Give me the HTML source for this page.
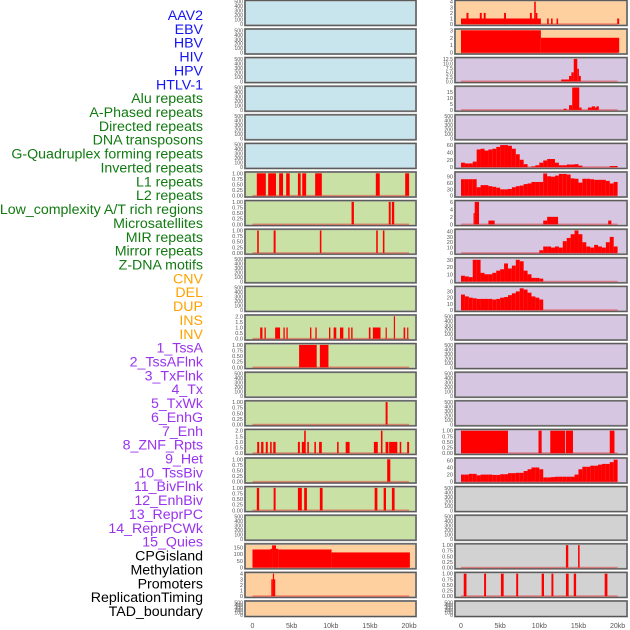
<!DOCTYPE html>
<html><head><meta charset="utf-8"><style>
html,body{margin:0;padding:0;background:#fff;}
svg{display:block;font-family:"Liberation Sans",sans-serif;}
</style></head><body>
<svg id="chart" width="630" height="630" viewBox="0 0 630 630" xmlns="http://www.w3.org/2000/svg">
<g id="labels"></g>
<g id="panels"></g>
<g id="xaxes"></g>
</svg>
<script>
// ---- label data ----
const trackLabels = ["AAV2","EBV","HBV","HIV","HPV","HTLV-1","Alu repeats","A-Phased repeats","Directed repeats","DNA transposons","G-Quadruplex forming repeats","Inverted repeats","L1 repeats","L2 repeats","Low_complexity A/T rich regions","Microsatellites","MIR repeats","Mirror repeats","Z-DNA motifs","CNV","DEL","DUP","INS","INV","1_TssA","2_TssAFlnk","3_TxFlnk","4_Tx","5_TxWk","6_EnhG","7_Enh","8_ZNF_Rpts","9_Het","10_TssBiv","11_BivFlnk","12_EnhBiv","13_ReprPC","14_ReprPCWk","15_Quies","CPGisland","Methylation","Promoters","ReplicationTiming","TAD_boundary"];
const labelGroups = [0,0,0,0,0,0,1,1,1,1,1,1,1,1,1,1,1,1,1,2,2,2,2,2,3,3,3,3,3,3,3,3,3,3,3,3,3,3,3,4,4,4,4,4];

// ---- x axis ----
const xTickValues = [0,5,10,15,20];
const xTickLabels = ["0","5kb","10kb","15kb","20kb"];

// ---- tick sets ----
const ticksEmpty = [0,100,200,300,400,500];
const ticksUnit = [0,0.25,0.5,0.75,1];
const ticksTwo = [0,0.5,1,1.5,2];
const ticksAAV2 = [0,1,2,3,4];
const ticksEBV = [0,1,2,3];
const ticksHIV = [0,2.5,5,7.5,10,12.5];
const ticksHPV = [0,5,10,15];
const ticksGQ = [0,20,40,60];
const ticksL1 = [0,30,60,90];
const ticksLowC = [0,2,4,6];
const ticksMIR = [0,10,20,30,40];
const ticks30 = [0,10,20,30];
const ticksCPG = [0,50,100,150];

// ---- series: segments [startKb, endKb, value] ----
const aav2Right = [[0,10.2,1],[0.7,0.95,2],[2.4,2.65,2],[2.9,3.15,2],[5.5,5.75,2],[8.8,9.05,2],[9.35,9.55,4],[9.55,9.75,2],[11.0,11.2,1],[11.5,11.7,1],[12.2,12.4,1],[19.95,20.2,1]];
const ebvRight = [[0,10.2,3],[10.2,20.2,2]];
const hivRight = [[12.8,13.8,1],[13.8,14.1,3],[14.1,14.4,5],[14.4,14.85,12.5],[14.85,15.06,7],[15.06,15.3,3]];
const hpvRight = [[13.1,13.5,1],[13.8,14.2,4],[14.2,15.1,19],[15.1,15.4,2],[16.2,16.7,2],[16.7,17.1,3],[17.1,17.3,2],[17.3,17.6,3]];
const lowcRight = [[1.6,1.75,3],[1.75,2.3,6],[3.5,4.3,1],[10.5,11.0,1],[11.0,12.4,2],[18.8,19.2,1]];
const l1Left = [[0.55,1.7,1],[2.0,3.0,1],[3.4,3.9,1],[4.3,4.75,1],[5.8,6.15,1],[6.35,6.85,1],[8.0,8.85,1],[15.75,16.25,1],[19.5,20.0,1]];
const l2Left = [[12.65,12.95,1],[17.4,17.65,1],[17.8,18.1,1]];
const mirLeft = [[0.6,0.8,1],[2.7,2.95,1],[8.6,8.8,1],[15.8,16.0,1],[16.65,16.85,1]];
const insLeft = [[0.98,1.27,1],[1.53,1.7,1],[2.89,3.52,1],[3.95,4.12,1],[4.33,4.5,1],[7.35,7.52,1],[8.03,8.2,1],[9.77,9.94,1],[10.36,10.7,1],[11.17,11.6,1],[12.23,12.4,1],[12.6,12.78,1],[14.86,15.07,1],[15.37,16.35,1],[17.0,17.15,1],[18.05,18.2,2],[19.3,19.5,1],[19.75,19.9,1]];
const tssaLeft = [[5.95,8.2,1],[8.6,9.7,1]];
const txwkLeft = [[17.0,17.25,1]];
const enhLeft = [[0.6,0.85,1],[1.1,1.4,1],[1.7,1.95,1],[2.25,2.45,1],[2.65,2.95,1],[5.8,6.05,1],[6.3,6.75,1],[6.6,6.8,2],[7.0,7.2,1],[7.9,8.1,1],[8.5,8.85,1],[10.8,11.0,1],[11.9,12.4,1],[15.5,16.0,1],[16.4,16.6,2],[17.0,17.35,1],[17.45,18.5,1],[18.8,19.0,1],[19.75,20.0,1]];
const znfRight = [[0,6.0,1],[9.9,10.3,1],[11.4,13.3,1],[13.4,14.3,1],[19.0,19.6,1]];
const hetLeft = [[17.2,17.6,1]];
const tssbivLeft = [[0.55,0.85,1],[2.7,2.95,1],[5.8,6.3,1],[6.6,6.95,1],[8.6,8.95,1],[15.6,15.95,1],[16.75,17.05,1],[17.8,18.15,1]];
const cpgLeft = [[0,2.3,135],[2.3,2.5,140],[2.5,3.0,166],[3.0,3.3,140],[3.3,10.1,135],[10.1,20.1,113]];
const methLeft = [[2.4,2.6,3],[2.6,2.75,4],[2.75,2.9,3]];
const promRight = [[13.4,13.7,1],[14.95,15.15,1]];
const repRight = [[0.35,0.7,1],[2.95,3.2,1],[5.1,5.45,1],[7.05,7.3,1],[10.3,10.6,1],[11.55,11.8,1],[13.4,13.75,1],[14.4,14.7,1],[18.35,18.7,1]];

// ---- series: 0.5kb bins ----
const gquadBins = [12,10,10,15,48,50,45,48,50,55,60,60,58,50,35,20,8,0,2,5,12,18,22,22,12,5,5,7,7,8,4,0,0,0,0,0,0,0,3,3];
const l1RightBins = [78,78,78,78,40,50,50,45,42,38,30,30,32,40,45,48,55,58,65,65,65,105,92,90,95,103,103,100,82,80,62,80,80,78,75,75,75,70,58,65];
const mirRightBins = [0,0,0,0,0,0,0,0,0,0,0,0,0,0,0,0,0,0,0,0,5,12,12,10,12,10,22,28,35,42,35,20,12,10,15,12,10,20,30,12];
const mirrorBins = [8,7,6,30,30,12,10,10,12,15,17,25,18,22,30,28,15,10,5,5,4,0,0,0,0,0,0,0,0,0,0,0,0,0,0,0,0,0,0,0];
const zdnaBins = [25,22,20,19,18,18,18,18,17,18,20,21,24,27,30,35,33,28,22,20,17,0,0,0,0,0,0,0,0,0,0,0,0,0,0,0,0,0,0,0];
const bivRightBins = [20,20,22,22,18,20,20,20,19,19,21,21,24,24,25,25,30,35,40,40,35,12,12,13,14,14,14,14,14,20,35,42,42,45,45,48,50,50,55,62];

const BLUE="#c8e4ec", GREEN="#c9e1a5", ORANGE="#ffd09f", PURPLE="#d6c6e1", GRAY="#d2d2d2";
const panelDefs = [];
for (let r=0;r<22;r++){
  panelDefs.push({row:r,side:0,bg: r<6?BLUE:(r<19?GREEN:ORANGE),seg:null,bins:null,ticks:ticksEmpty,max:500,dec:0});
  panelDefs.push({row:r,side:1,bg: r<2?ORANGE:(r<17?PURPLE:GRAY),seg:null,bins:null,ticks:ticksEmpty,max:500,dec:0});
}
function setP(row,side,o){Object.assign(panelDefs[row*2+side],o);}
setP(0,1,{seg:aav2Right,ticks:ticksAAV2,max:4});
setP(1,1,{seg:ebvRight,ticks:ticksEBV,max:3});
setP(2,1,{seg:hivRight,ticks:ticksHIV,max:12.5,dec:1});
setP(3,1,{seg:hpvRight,ticks:ticksHPV,max:19});
setP(5,1,{bins:gquadBins,ticks:ticksGQ,max:61});
setP(6,0,{seg:l1Left,ticks:ticksUnit,max:1,dec:2});
setP(6,1,{bins:l1RightBins,ticks:ticksL1,max:106});
setP(7,0,{seg:l2Left,ticks:ticksUnit,max:1,dec:2});
setP(7,1,{seg:lowcRight,ticks:ticksLowC,max:6});
setP(8,0,{seg:mirLeft,ticks:ticksUnit,max:1,dec:2});
setP(8,1,{bins:mirRightBins,ticks:ticksMIR,max:42});
setP(9,1,{bins:mirrorBins,ticks:ticks30,max:31});
setP(10,1,{bins:zdnaBins,ticks:ticks30,max:36});
setP(11,0,{seg:insLeft,ticks:ticksTwo,max:2,dec:1});
setP(12,0,{seg:tssaLeft,ticks:ticksUnit,max:1,dec:2});
setP(14,0,{seg:txwkLeft,ticks:ticksUnit,max:1,dec:2});
setP(15,0,{seg:enhLeft,ticks:ticksTwo,max:2,dec:1});
setP(15,1,{seg:znfRight,ticks:ticksUnit,max:1,dec:2});
setP(16,0,{seg:hetLeft,ticks:ticksUnit,max:1,dec:2});
setP(16,1,{bins:bivRightBins,ticks:ticksGQ,max:63});
setP(17,0,{seg:tssbivLeft,ticks:ticksUnit,max:1,dec:2});
setP(19,0,{seg:cpgLeft,ticks:ticksCPG,max:168});
setP(19,1,{seg:promRight,ticks:ticksUnit,max:1,dec:2});
setP(20,0,{seg:methLeft,ticks:ticksAAV2,max:4});
setP(20,1,{seg:repRight,ticks:ticksUnit,max:1,dec:2});

const NS="http://www.w3.org/2000/svg";
function mk(tag,attrs,parent){const e=document.createElementNS(NS,tag);for(const k in attrs)e.setAttribute(k,attrs[k]);parent.appendChild(e);return e;}
const panelX=[[245,416],[455,627]];
const zeroX=[252.5,461];
const PXKB=7.83;
function xScale(side,kb){return zeroX[side]+kb*PXKB;}
function rowTop(r){return 0.4+28.6*r;}
function rowH(r){return r===21?15.5:25;}

const labelsG=document.getElementById('labels');
const groupColors=["#1515f5","#117a11","#ffa200","#9933ee","#000000"];
trackLabels.forEach((t,i)=>{
  const el=mk('text',{x:203,y:(15+13.86*i+5).toFixed(1),'text-anchor':'end','font-size':'14.2',fill:groupColors[labelGroups[i]]},labelsG);
  
  
  el.textContent=t;
});

const panelsG=document.getElementById('panels');
panelDefs.forEach(p=>{
  const g=mk('g',{},panelsG);
  
  
  const x0=panelX[p.side][0], x1=panelX[p.side][1];
  const top=rowTop(p.row), h=rowH(p.row), bot=top+h;
  mk('rect',{x:x0,y:top,width:x1-x0,height:h,fill:p.bg,stroke:'#9a9a9a','stroke-width':2},g);
  mk('rect',{x:x0,y:top,width:x1-x0,height:h,fill:'none',stroke:'#555','stroke-width':1},g);
  const y0=bot-1.3, yH=h-2.6;
  const yScale=v=>y0-(v/p.max)*yH;
  p.ticks.forEach(tv=>{
    const t=mk('text',{x:x0-2,y:(yScale(tv)+2).toFixed(1),'text-anchor':'end','font-size':p.ticks.length>5?5.2:5.6,fill:'#555'},g);
    
    
    t.textContent=p.dec?tv.toFixed(p.dec):String(tv);
  });
  let segs=p.seg;
  if(p.bins){segs=p.bins.map((v,i)=>[i*0.5,i*0.5+0.5,v]);}
  if(segs){
    mk('line',{x1:xScale(p.side,0),x2:xScale(p.side,20),y1:y0,y2:y0,stroke:'rgba(230,40,40,0.45)','stroke-width':1.6},g);
    segs.forEach(s=>{
      if(s[2]<=0)return;
      const b=mk('rect',{x:xScale(p.side,s[0]).toFixed(2),y:yScale(s[2]).toFixed(2),width:Math.max(1.2,(s[1]-s[0])*PXKB).toFixed(2),height:(y0-yScale(s[2])).toFixed(2),fill:'#ff0000'},g);
      
      
    });
  }
});

const xG=document.getElementById('xaxes');
[0,1].forEach(side=>{
  xTickValues.forEach((v,i)=>{
    const t=mk('text',{x:xScale(side,v).toFixed(1),y:628,'text-anchor':'middle','font-size':7,fill:'#555'},xG);
    
    
    t.textContent=xTickLabels[i];
  });
});
</script>
</body></html>
